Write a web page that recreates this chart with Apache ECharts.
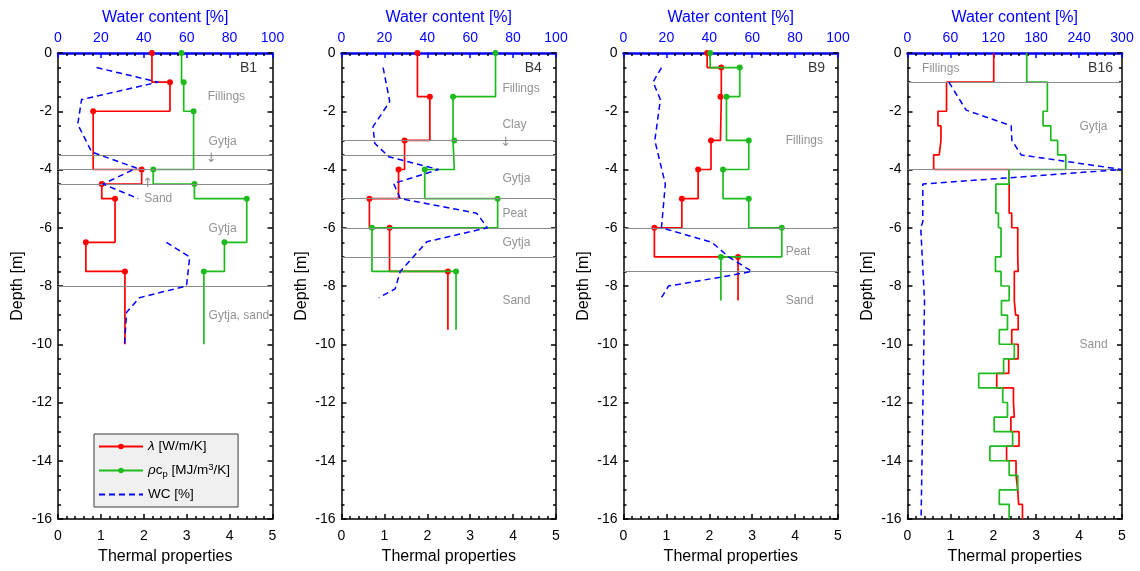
<!DOCTYPE html>
<html><head><meta charset="utf-8">
<script src="https://cdn.jsdelivr.net/npm/echarts@6/dist/echarts.min.js"></script>
<style>html,body{margin:0;padding:0;background:#fff}#c{width:1140px;height:571px}</style>
</head><body><div id="c"></div>
<script>
// ---------------- data ----------------
const yTicks = { min: -16, max: 0, step: 2 };
const thermalTicks = { min: 0, max: 5, step: 1 };

// B1
const B1_depth  = [0, -1, -2, -4, -4.5, -5, -6.5, -7.5, -10];
const B1_lambda = [2.19, 2.61, 0.82, 1.95, 1.02, 1.33, 0.65, 1.56];
const B1_rhoc   = [2.88, 2.93, 3.16, 2.22, 3.18, 4.40, 3.88, 3.40];
const B1_wcDepth = [-0.5, -1.0, -1.6, -2.45, -3.4, -3.95, -4.5, -5.0, null, -6.5, -7.0, -8.0, -8.4, -8.9, -10];
const B1_wc      = [18, 46.7, 11, 9.2, 15.7, 36.6, 21, 37.4, null, 50.5, 61.4, 59.9, 38, 32, 31];
const B1_layers = [-3.5, -4, -4.5, -8];
const B1_notes = ['B1', 'Fillings', 'Gytja', '↓', '↑', 'Sand', 'Gytja', 'Gytja, sand'];
const B1_noteX = [4.64, 3.49, 3.51, 3.57, 2.09, 2.01, 3.51, 3.51];
const B1_noteY = [-0.53, -1.51, -3.04, -3.62, -4.47, -4.99, -6.02, -9.03];

// B4
const B4_depth  = [0, -1.5, -3, -4, -5, -6, -7.5, -9.5];
const B4_lambda = [1.77, 2.06, 1.47, 1.33, 0.65, 1.12, 2.48];
const B4_rhoc   = [3.59, 2.60, 2.63, 1.94, 3.64, 0.71, 2.67];
const B4_wcDepth = [-0.5, -1.67, -2.53, -3.1, -3.56, -4.0, -4.48, -5.0, -5.5, -6.0, -6.48, -7.5, -8.1, -8.4];
const B4_wc      = [19.4, 22.5, 14.7, 15.5, 22, 45.3, 24.3, 27.4, 63, 68, 39.8, 27.4, 25, 17.4];
const B4_layers = [-3, -3.5, -5, -6, -7];
const B4_notes = ['B4', 'Fillings', 'Clay', '↓', 'Gytja', 'Peat', 'Gytja', 'Sand'];
const B4_noteX = [4.67, 3.75, 3.75, 3.83, 3.75, 3.75, 3.75, 3.75];
const B4_noteY = [-0.53, -1.24, -2.45, -3.08, -4.30, -5.50, -6.53, -8.51];

// B9
const B9_depth  = [0, -0.5, -1.5, -3, -4, -5, -6, -7, -8.5];
const B9_lambda = [1.95, 2.28, 2.26, 2.04, 1.74, 1.36, 0.72, 2.67];
const B9_rhoc   = [2.02, 2.71, 2.40, 2.92, 2.32, 2.92, 3.69, 2.27];
const B9_wcDepth = [-0.5, -1.0, -1.6, -3.0, -4.5, -6.0, -6.5, -7.0, -7.5, -7.7, -8.0, -8.4];
const B9_wc      = [17.7, 13.8, 17.2, 14.6, 19.5, 17.7, 41.2, 49, 59.9, 45, 21, 17.7];
const B9_layers = [-6, -7.5];
const B9_notes = ['B9', 'Fillings', 'Peat', 'Sand'];
const B9_noteX = [4.70, 3.78, 3.78, 3.78];
const B9_noteY = [-0.53, -3.01, -6.82, -8.51];

// B16
const B16_depth  = [0, -1, -2, -2.5, -3, -3.5, -4, -4.5, -5, -5.5, -6, -6.5, -7, -7.5, -8, -8.5,
                    -9, -9.5, -10, -10.5, -11, -11.5, -12, -12.5, -13, -13.5, -14, -14.5, -15, -15.5, -16];
const B16_lambda = [2.01, 0.91, 0.71, 0.78, 0.74, 0.61, 2.37, 2.37, 2.37, 2.43, 2.57, 2.57, 2.58, 2.49, 2.49,
                    2.52, 2.58, 2.43, 2.58, 2.36, 2.08, 2.47, 2.49, 2.41, 2.60, 2.31, 2.53, 2.57, 2.59, 2.68];
const B16_rhoc   = [2.78, 3.26, 3.16, 3.34, 3.50, 3.69, 2.37, 2.06, 2.06, 2.12, 2.18, 2.18, 2.05, 2.18, 2.37,
                    2.19, 2.33, 2.14, 2.49, 2.24, 1.66, 2.22, 2.33, 2.02, 2.45, 1.92, 2.37, 2.57, 2.14, 2.37];
const B16_wcDepth = [-1.0, -1.96, -2.5, -3.0, -3.5, -4.0, -4.5, -5.8, -6.0, -8.5, -16];
const B16_wc      = [57.8, 82, 145, 146, 159, 300, 21.4, 21.4, 18.5, 23.8, 19];
const B16_layers = [-1, -4];
const B16_notes = ['B16', 'Fillings', 'Gytja', 'Sand'];
const B16_noteX = [4.79, 0.34, 4.01, 4.01];
const B16_noteY = [-0.53, -0.53, -2.53, -10.03];

// ---------------- layout / style ----------------
const FONT = 'Liberation Sans, Arial, sans-serif';
const RED = '#ff0000', GREEN = '#1dbb1d', BLUE = '#0000ff';
const gridLefts = [58, 341.5, 623.5, 907.5];
const gridW = 214.5, gridTop = 53, gridH = 466;

const panels = [
  { depth: B1_depth, lambda: B1_lambda, rhoc: B1_rhoc, wcDepth: B1_wcDepth, wc: B1_wc, layers: B1_layers, notes: B1_notes, nx: B1_noteX, ny: B1_noteY, wcMax: 100, wcStep: 20, markers: true },
  { depth: B4_depth, lambda: B4_lambda, rhoc: B4_rhoc, wcDepth: B4_wcDepth, wc: B4_wc, layers: B4_layers, notes: B4_notes, nx: B4_noteX, ny: B4_noteY, wcMax: 100, wcStep: 20, markers: true },
  { depth: B9_depth, lambda: B9_lambda, rhoc: B9_rhoc, wcDepth: B9_wcDepth, wc: B9_wc, layers: B9_layers, notes: B9_notes, nx: B9_noteX, ny: B9_noteY, wcMax: 100, wcStep: 20, markers: true },
  { depth: B16_depth, lambda: B16_lambda, rhoc: B16_rhoc, wcDepth: B16_wcDepth, wc: B16_wc, layers: B16_layers, notes: B16_notes, nx: B16_noteX, ny: B16_noteY, wcMax: 300, wcStep: 60, markers: false }
];

function stepData(vals, depths) {
  const d = vals.map((v, i) => [v, depths[i]]);
  d.push({ value: [vals[vals.length - 1], depths[depths.length - 1]], symbol: 'none' });
  return d;
}
function lineData(vals, depths) {
  return vals.map((v, i) => (v === null ? ['-', '-'] : [v, depths[i]]));
}

const grids = [], xAxes = [], yAxes = [], series = [];
const blackTick = { color: '#000', width: 1.5 };

panels.forEach((p, k) => {
  grids.push({ left: gridLefts[k], top: gridTop, width: gridW, height: gridH, containLabel: false });
  // bottom thermal axis
  xAxes.push({
    type: 'value', gridIndex: k, position: 'bottom',
    min: thermalTicks.min, max: thermalTicks.max, interval: thermalTicks.step,
    name: 'Thermal properties', nameLocation: 'middle', nameGap: 30,
    nameTextStyle: { fontFamily: FONT, fontSize: 16, color: '#000' },
    axisLine: { onZero: false, lineStyle: { color: '#000', width: 1.5 } },
    axisTick: { inside: true, length: 5, lineStyle: blackTick },
    minorTick: { show: true, splitNumber: 5, length: 3, lineStyle: blackTick },
    axisLabel: { fontFamily: FONT, fontSize: 14, color: '#000', margin: 10 },
    splitLine: { show: false }
  });
  // top water content axis
  xAxes.push({
    type: 'value', gridIndex: k, position: 'top',
    min: 0, max: p.wcMax, interval: p.wcStep,
    name: 'Water content [%]', nameLocation: 'middle', nameGap: 27,
    nameTextStyle: { fontFamily: FONT, fontSize: 16, color: BLUE },
    axisLine: { onZero: false, lineStyle: { color: BLUE, width: 2.5 } },
    axisTick: { inside: true, length: 5, lineStyle: { color: BLUE, width: 1.5 } },
    minorTick: { show: true, splitNumber: 5, length: 3, lineStyle: blackTick },
    axisLabel: { fontFamily: FONT, fontSize: 14, color: BLUE, margin: 8 },
    splitLine: { show: false }
  });
  const yBase = {
    type: 'value', gridIndex: k, min: yTicks.min, max: yTicks.max, interval: yTicks.step,
    axisLine: { onZero: false, lineStyle: { color: '#000', width: 1.5 } },
    axisTick: { inside: true, length: 5, lineStyle: blackTick },
    minorTick: { show: true, splitNumber: 4, length: 3, lineStyle: blackTick },
    splitLine: { show: false }
  };
  yAxes.push(Object.assign({}, yBase, {
    position: 'left', name: 'Depth [m]', nameLocation: 'middle', nameGap: 32, nameRotate: 90,
    nameTextStyle: { fontFamily: FONT, fontSize: 16, color: '#000' },
    axisLabel: { fontFamily: FONT, fontSize: 14, color: '#000', margin: 6 }
  }));
  yAxes.push(Object.assign({}, yBase, { position: 'right', axisLabel: { show: false } }));

  const xb = 2 * k, xt = 2 * k + 1, yl = 2 * k;
  series.push({
    name: 'lambda', type: 'line', xAxisIndex: xb, yAxisIndex: yl, step: 'start',
    data: stepData(p.lambda, p.depth),
    symbol: p.markers ? 'circle' : 'none', showSymbol: p.markers, symbolSize: 6,
    itemStyle: { color: RED }, lineStyle: { color: RED, width: 1.7 }, z: 3,
    markLine: {
      silent: true, symbol: ['none', 'none'], label: { show: false },
      lineStyle: { color: '#8c8c8c', width: 1.2, type: 'solid' },
      data: p.layers.map(d => ({ yAxis: d }))
    }
  });
  series.push({
    name: 'rhoc', type: 'line', xAxisIndex: xb, yAxisIndex: yl, step: 'start',
    data: stepData(p.rhoc, p.depth),
    symbol: p.markers ? 'circle' : 'none', showSymbol: p.markers, symbolSize: 6,
    itemStyle: { color: GREEN }, lineStyle: { color: GREEN, width: 1.7 }, z: 4
  });
  series.push({
    name: 'wc', type: 'line', xAxisIndex: xt, yAxisIndex: yl,
    data: lineData(p.wc, p.wcDepth), connectNulls: false,
    symbol: 'none', showSymbol: false,
    itemStyle: { color: BLUE }, lineStyle: { color: BLUE, width: 1.5, type: [6, 4] }, z: 5
  });
  series.push({
    name: 'notes' + k, type: 'scatter', xAxisIndex: xb, yAxisIndex: yl, silent: true,
    symbolSize: 1, itemStyle: { color: 'rgba(0,0,0,0)' }, z: 6,
    data: p.notes.map((t, i) => {
      const isTitle = i === 0;
      const isArrow = t === '↓' || t === '↑';
      return {
        value: [p.nx[i], p.ny[i]], name: t,
        label: {
          align: isTitle ? 'right' : (isArrow ? 'center' : 'left'),
          fontSize: isTitle ? 14 : (isArrow ? 13 : 12),
          fontFamily: isArrow ? 'DejaVu Sans, sans-serif' : FONT,
          color: isTitle ? '#000' : '#777'
        }
      };
    }),
    label: { show: true, position: 'inside', formatter: '{b}', verticalAlign: 'middle', fontFamily: FONT }
  });
});

const legendText = {
  lambda: '{i|λ} [W/m/K]',
  rhoc: '{i|ρ}c{sub|p} [MJ/m{sup|3}/K]',
  wc: 'WC [%]'
};

const option = {
  animation: false,
  backgroundColor: '#fff',
  grid: grids, xAxis: xAxes, yAxis: yAxes, series: series,
  legend: {
    left: 94, top: 434, orient: 'vertical', selectedMode: false,
    itemWidth: 44, itemHeight: 7, itemGap: 7,
    padding: [4, 8, 4, 4],
    backgroundColor: '#f0f0f0', borderColor: '#3a3a3a', borderWidth: 1,
    itemStyle: { borderWidth: 0 },
    data: [
      { name: 'lambda' },
      { name: 'rhoc' },
      { name: 'wc', itemStyle: { color: 'rgba(0,0,0,0)', borderColor: 'rgba(0,0,0,0)', borderWidth: 0 } }
    ],
    formatter: n => legendText[n],
    textStyle: {
      fontFamily: FONT, fontSize: 13.5, color: '#000', lineHeight: 17,
      rich: {
        i: { fontFamily: FONT, fontSize: 13.5, fontStyle: 'italic', lineHeight: 17 },
        sub: { fontFamily: FONT, fontSize: 9.5, verticalAlign: 'bottom', lineHeight: 10 },
        sup: { fontFamily: FONT, fontSize: 9.5, verticalAlign: 'top', lineHeight: 10 }
      }
    }
  }
};

const chart = echarts.init(document.getElementById('c'), null, { renderer: 'canvas', width: 1140, height: 571 });
chart.setOption(option);
</script>
</body></html>
